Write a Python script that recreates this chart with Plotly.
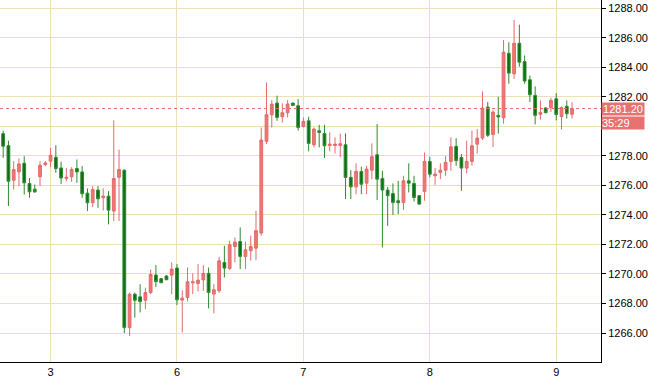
import plotly.graph_objects as go

tick_idx = [9, 33, 57, 81, 105]
tick_labels = ["3", "6", "7", "8", "9"]

opens = [1279.5, 1278.69, 1276.35, 1276.91, 1277.5, 1276.13, 1275.74, 1276.58, 1277.41, 1277.64,
         1277.9, 1277.18, 1276.46, 1276.58, 1277.14, 1276.91, 1275.47, 1274.82, 1275.68, 1275.16,
         1275.27, 1274.26, 1276.55, 1277.03, 1266.37, 1268.63, 1268.45, 1268.22, 1268.74, 1269.93,
         1269.68, 1269.86, 1269.92, 1270.4, 1268.23, 1268.41, 1269.4, 1269.36, 1269.6, 1270.04,
         1268.64, 1268.86, 1270.78, 1270.37, 1271.86, 1272.2, 1271.19, 1271.57, 1271.75, 1272.77,
         1278.98, 1280.78, 1281.57, 1280.65, 1280.92, 1281.57, 1281.39, 1279.99, 1280.37, 1278.75,
         1279.7, 1279.52, 1278.7, 1278.7, 1278.7, 1278.75, 1276.54, 1275.9, 1276.94, 1276.15,
         1277.03, 1278.07, 1276.47, 1275.68, 1275.45, 1274.96, 1274.84, 1276.31, 1276.13, 1275.3,
         1275.59, 1277.62, 1276.65, 1276.88, 1277.03, 1277.62, 1278.64, 1277.89, 1277.17, 1277.62,
         1278.79, 1279.2, 1281.3, 1279.44, 1280.74, 1280.58, 1284.94, 1283.55, 1285.62, 1284.38,
         1283.15, 1282.09, 1280.81, 1281.24, 1281.26, 1281.86, 1280.67, 1281.35, 1280.81]
highs = [1279.7, 1279.03, 1277.64, 1277.82, 1277.97, 1276.5, 1276.06, 1277.64, 1277.64, 1278.54,
         1278.72, 1277.6, 1277.18, 1277.23, 1277.75, 1277.3, 1275.79, 1275.95, 1275.95, 1275.79,
         1275.61, 1280.4, 1278.42, 1277.07, 1268.74, 1268.74, 1269.3, 1269.07, 1270.3, 1270.6,
         1269.72, 1269.92, 1270.78, 1270.67, 1268.9, 1270.44, 1270.04, 1270.67, 1270.6, 1270.44,
         1269.31, 1271.16, 1271.91, 1272.25, 1272.47, 1273.15, 1272.18, 1272.59, 1274.28, 1279.92,
         1282.97, 1281.77, 1282.07, 1281.55, 1281.77, 1281.6, 1281.84, 1280.6, 1280.65, 1279.92,
         1280.1, 1280.1, 1279.58, 1279.25, 1279.5, 1279.52, 1277.03, 1277.49, 1277.26, 1277.33,
         1278.84, 1280.15, 1276.99, 1275.9, 1276.13, 1276.31, 1276.65, 1277.49, 1276.65, 1275.32,
         1278.23, 1277.94, 1277.17, 1277.49, 1278.0, 1279.25, 1279.2, 1278.12, 1279.02, 1279.7,
         1279.81, 1282.36, 1281.64, 1281.1, 1282.0, 1285.84, 1285.69, 1287.21, 1286.88, 1284.79,
         1283.44, 1282.7, 1281.75, 1281.3, 1281.93, 1282.25, 1281.35, 1281.75, 1281.64]
lows = [1277.86, 1274.6, 1275.72, 1275.95, 1275.38, 1275.16, 1275.5, 1275.95, 1277.3, 1277.23,
        1276.85, 1276.1, 1276.28, 1276.24, 1276.17, 1275.16, 1274.26, 1274.53, 1274.48, 1274.3,
        1273.36, 1273.58, 1273.58, 1266.0, 1265.8, 1267.05, 1267.4, 1267.61, 1268.63, 1269.12,
        1269.38, 1269.58, 1268.64, 1267.9, 1266.04, 1268.14, 1268.64, 1268.82, 1268.86, 1267.67,
        1267.33, 1268.73, 1269.76, 1270.26, 1270.78, 1270.33, 1270.33, 1270.9, 1270.94, 1272.59,
        1278.79, 1279.92, 1280.37, 1280.26, 1280.6, 1281.38, 1279.7, 1279.92, 1278.3, 1278.57,
        1278.57, 1277.85, 1278.3, 1278.16, 1277.9, 1275.07, 1275.07, 1275.4, 1275.4, 1275.4,
        1276.42, 1275.0, 1271.8, 1273.26, 1274.0, 1274.05, 1274.33, 1275.52, 1274.91, 1274.7,
        1274.96, 1276.54, 1276.04, 1276.42, 1276.65, 1276.99, 1277.33, 1275.63, 1276.81, 1277.33,
        1278.16, 1279.07, 1279.28, 1278.6, 1279.5, 1280.18, 1282.88, 1283.21, 1284.04, 1282.88,
        1281.64, 1280.13, 1280.45, 1280.88, 1280.97, 1280.4, 1279.78, 1280.52, 1280.52]
closes = [1278.65, 1276.28, 1277.07, 1277.45, 1276.17, 1275.56, 1275.56, 1277.36, 1277.52, 1278.04,
          1277.14, 1276.5, 1276.55, 1277.07, 1276.91, 1275.43, 1274.82, 1275.72, 1275.09, 1275.27,
          1274.32, 1276.46, 1277.07, 1266.37, 1268.63, 1268.22, 1268.13, 1268.74, 1269.97, 1269.48,
          1269.41, 1269.61, 1270.33, 1268.25, 1268.37, 1269.47, 1269.47, 1269.58, 1270.04, 1268.75,
          1268.93, 1270.89, 1270.4, 1271.98, 1272.16, 1271.19, 1271.64, 1271.86, 1272.93, 1279.07,
          1280.78, 1281.5, 1280.6, 1280.92, 1281.5, 1281.41, 1279.92, 1280.33, 1278.84, 1279.81,
          1279.58, 1278.68, 1278.79, 1278.79, 1278.82, 1276.54, 1275.9, 1276.94, 1276.08, 1277.1,
          1277.94, 1276.42, 1275.68, 1275.3, 1274.84, 1274.82, 1276.31, 1276.15, 1275.18, 1274.73,
          1277.62, 1276.76, 1276.76, 1277.03, 1277.55, 1278.61, 1277.67, 1277.17, 1277.62, 1278.68,
          1279.2, 1281.23, 1279.39, 1280.96, 1280.63, 1285.01, 1283.6, 1285.62, 1284.34, 1283.06,
          1282.13, 1280.74, 1280.94, 1280.92, 1281.75, 1280.79, 1281.26, 1280.85, 1281.2]

y_ticks = [1266, 1268, 1270, 1272, 1274, 1276, 1278, 1280, 1282, 1284, 1286, 1288]
# the 1280.00 label is hidden behind the price/timer boxes in the reference
y_tick_labels = ["%.2f" % v if v != 1280 else "" for v in y_ticks]
last_price = 1281.20
timer_text = "35:29"

x = list(range(len(opens)))
FONT = "Liberation Sans, Arial, sans-serif"
GRID = "#eee0b6"
RED_LINE = "#e46a6a"
RED_FILL = "#f07676"
GREEN_LINE = "#2f8a2f"
GREEN_FILL = "#0c6e18"
BOX = "#e87272"

fig = go.Figure()
fig.add_trace(go.Candlestick(
    x=x, open=opens, high=highs, low=lows, close=closes,
    increasing=dict(line=dict(color=RED_LINE, width=1), fillcolor=RED_FILL),
    decreasing=dict(line=dict(color=GREEN_LINE, width=1), fillcolor=GREEN_FILL),
    whiskerwidth=0, showlegend=False, hoverinfo="skip",
))

fig.add_shape(type="line", xref="paper", yref="y", x0=0, x1=1,
              y0=last_price, y1=last_price,
              line=dict(color=RED_LINE, width=1, dash="dot"), layer="above")

fig.add_annotation(xref="paper", yref="y", x=1, y=last_price, xanchor="left",
                   yanchor="middle", text="%.2f" % last_price, showarrow=False,
                   bgcolor=BOX, font=dict(color="white", size=11, family=FONT),
                   width=42, height=12, align="center", borderpad=0, xshift=0)
fig.add_annotation(xref="paper", yref="y", x=1, y=last_price - 0.95, xanchor="left",
                   yanchor="middle", text=timer_text, showarrow=False,
                   bgcolor=BOX, font=dict(color="white", size=11, family=FONT),
                   width=42, height=12, align="left", borderpad=0, xshift=0)

fig.update_layout(
    width=648, height=378,
    margin=dict(l=0, r=42, t=0, b=16),
    paper_bgcolor="white", plot_bgcolor="white",
    font=dict(family=FONT, size=11, color="black"),
    xaxis=dict(
        range=[-0.6, 113.5], tickmode="array", tickvals=tick_idx, ticktext=tick_labels,
        showgrid=True, gridcolor=GRID, gridwidth=1, zeroline=False,
        showline=True, linecolor="black", linewidth=1, ticks="", rangeslider=dict(visible=False),
        tickfont=dict(size=11, family=FONT, color="black"),
    ),
    yaxis=dict(
        side="right", range=[1264.04, 1288.55], tickmode="array", tickvals=y_ticks,
        ticktext=y_tick_labels, showgrid=True, gridcolor=GRID, gridwidth=1, zeroline=False,
        showline=True, linecolor="black", linewidth=1, ticks="outside", ticklen=4,
        tickcolor="black", tickfont=dict(size=11, family=FONT, color="black"),
    ),
    boxgap=0.25,
)

fig.write_html("out.html")
